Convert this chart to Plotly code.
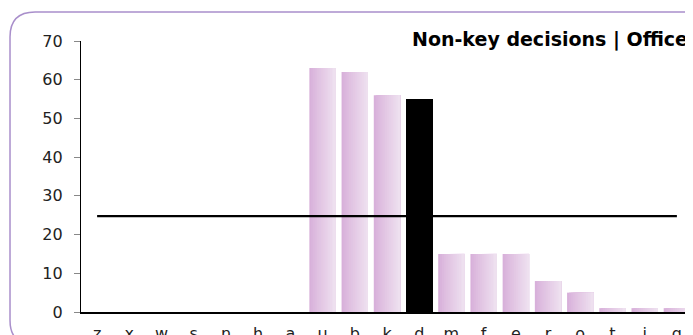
import plotly.graph_objects as go

categories = ["z", "x", "w", "s", "n", "h", "a", "u", "b", "k", "d", "m", "f", "e", "r", "o", "t", "i", "g"]
values = [0, 0, 0, 0, 0, 0, 0, 63, 62, 56, 55, 15, 15, 15, 8, 5, 1, 1, 1]
highlight = "d"
average_value = [24.75, 24.75]
title_text = "Non-key decisions | Officer"

FONT = "DejaVu Sans, Verdana, sans-serif"

def lerp(c1, c2, t):
    return "#%02x%02x%02x" % tuple(round(a + (b - a) * t) for a, b in zip(c1, c2))

left_col = (0xd8, 0xb0, 0xda)
right_col = (0xee, 0xe0, 0xef)

fig = go.Figure()

bar_w = 0.82
n_strips = 14
dw = bar_w / n_strips
for i in range(n_strips):
    t = i / (n_strips - 1)
    col = lerp(left_col, right_col, min(1.0, t ** 0.9))
    colors = ["#000000" if c == highlight else col for c in categories]
    fig.add_trace(go.Bar(
        x=categories, y=values,
        width=bar_w - i * dw, offset=-bar_w / 2 + i * dw,
        marker=dict(color=colors, line=dict(width=0)),
        showlegend=False, hoverinfo="skip"
    ))

fig.add_trace(go.Scatter(
    x=[categories[0], categories[-1]], y=average_value,
    mode="lines", line=dict(color="#000000", width=2.2),
    showlegend=False, hoverinfo="skip"
))

fig.update_layout(
    template="none",
    width=685, height=327,
    margin=dict(l=73, r=0, t=33, b=23, autoexpand=False),
    barmode="overlay",
    paper_bgcolor="white", plot_bgcolor="white",
    font=dict(family=FONT, size=16, color="#000000"),
    xaxis=dict(
        type="category", categoryorder="array", categoryarray=categories,
        range=[-0.5, len(categories) - 0.5], automargin=False,
        showline=True, linecolor="#000000", linewidth=1.5,
        showgrid=False, zeroline=False, ticks="",
        ticklabelstandoff=6,
        tickfont=dict(family=FONT, size=16, color="#222222"),
    ),
    yaxis=dict(
        range=[0, 70], dtick=10, automargin=False,
        showline=True, linecolor="#000000", linewidth=1.2,
        showgrid=False, zeroline=False,
        ticks="outside", ticklen=6, tickcolor="#888888", tickwidth=1,
        ticklabelstandoff=8,
        tickfont=dict(family=FONT, size=16, color="#222222"),
    ),
    shapes=[dict(
        type="path", xref="paper", yref="paper",
        path="M -0.116,0.5 L -0.116,1.015 Q -0.116,1.107 -0.075,1.107 L 1.2,1.107 L 1.2,-0.122 L -0.075,-0.122 Q -0.116,-0.122 -0.116,-0.03 Z",
        line=dict(color="#a98fcb", width=1.5), fillcolor="rgba(0,0,0,0)", layer="below",
    )],
    annotations=[dict(
        text="<b>" + title_text + "</b>", xref="paper", yref="paper",
        x=0.538, y=1.004, xanchor="left", yanchor="middle",
        showarrow=False, font=dict(family=FONT, size=19, color="#000000"),
    )],
)

fig.write_html("out.html")
